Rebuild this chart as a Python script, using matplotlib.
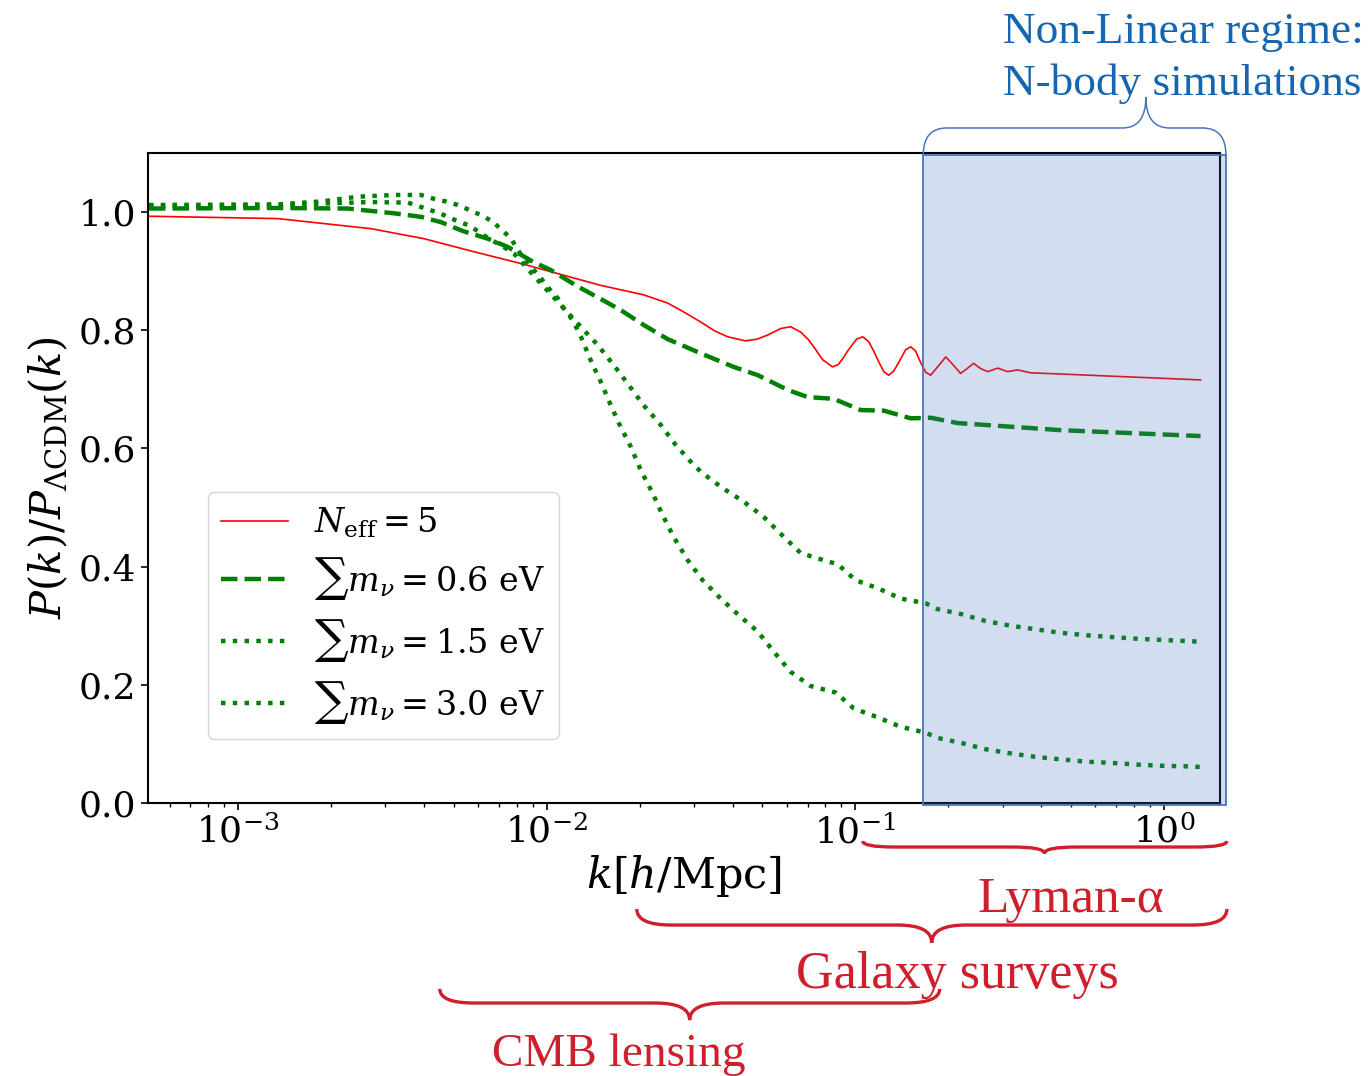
import numpy as np
import matplotlib
matplotlib.use("Agg")
import matplotlib.pyplot as plt
from matplotlib.path import Path
from matplotlib.patches import PathPatch, Rectangle

plt.rcParams['font.family'] = 'DejaVu Serif'
plt.rcParams['mathtext.fontset'] = 'dejavuserif'

# P(k) ratio to LCDM
k_neff = [5.14e-4, 1.345e-3, 2.69e-3, 4.0e-3, 5.8e-3, 8.24e-3, 0.01496, 0.0206, 0.02465,
          0.028, 0.03154, 0.035, 0.03857, 0.0441, 0.048, 0.052, 0.0573, 0.0617, 0.0665,
          0.0705, 0.0733, 0.0784, 0.0844, 0.088, 0.091, 0.0944, 0.1009, 0.1056, 0.1104,
          0.1146, 0.12, 0.1236, 0.1282, 0.1331, 0.137, 0.1455, 0.1511, 0.1567, 0.1629,
          0.169, 0.1754, 0.186, 0.1963, 0.207, 0.2193, 0.23, 0.2416, 0.255, 0.2685,
          0.2893, 0.3115, 0.3355, 0.3698, 0.4627, 1.314]
r_neff = [0.993, 0.989, 0.972, 0.955, 0.933, 0.913, 0.876, 0.860, 0.846,
          0.830, 0.814, 0.799, 0.789, 0.782, 0.785, 0.792, 0.803, 0.806, 0.797,
          0.784, 0.772, 0.750, 0.738, 0.742, 0.752, 0.765, 0.785, 0.789, 0.781,
          0.765, 0.743, 0.730, 0.724, 0.731, 0.742, 0.767, 0.772, 0.765, 0.745,
          0.729, 0.724, 0.740, 0.755, 0.742, 0.727, 0.735, 0.744, 0.735, 0.730,
          0.736, 0.730, 0.733, 0.728, 0.726, 0.716]

k_m06 = [5.14e-4, 1.345e-3, 2.27e-3, 3.195e-3, 3.91e-3, 4.54e-3, 5.34e-3, 6.44e-3, 7.48e-3,
         9.01e-3, 0.0103, 0.0126, 0.01496, 0.01738, 0.0206, 0.02465, 0.03154, 0.04034,
         0.0483, 0.0604, 0.0700, 0.0851, 0.1040, 0.1236, 0.1511, 0.1754, 0.2145, 0.2604,
         0.4627, 1.314]
r_m06 = [1.006, 1.007, 1.006, 0.998, 0.992, 0.983, 0.968, 0.955, 0.941,
         0.916, 0.902, 0.874, 0.853, 0.834, 0.809, 0.785, 0.761, 0.738,
         0.724, 0.699, 0.687, 0.684, 0.665, 0.664, 0.651, 0.652, 0.643, 0.640,
         0.631, 0.621]

k_m15 = [5.14e-4, 1.345e-3, 2.0e-3, 2.69e-3, 3.55e-3, 4.27e-3, 4.64e-3, 5.07e-3, 5.55e-3,
         6.02e-3, 6.49e-3, 7.10e-3, 7.82e-3, 8.74e-3, 9.35e-3, 0.01288, 0.01463, 0.01648,
         0.01845, 0.0206, 0.02339, 0.02617, 0.02993, 0.03199, 0.03714, 0.04345, 0.0505,
         0.0582, 0.0665, 0.0789, 0.0877, 0.1002, 0.1190, 0.1402, 0.169, 0.185, 0.2193,
         0.2643, 0.3185, 0.3839, 0.4627, 0.5573, 0.6714, 0.818, 0.985, 1.192, 1.314]
r_m15 = [1.010, 1.012, 1.015, 1.017, 1.016, 1.002, 0.995, 0.986, 0.978,
         0.967, 0.955, 0.944, 0.930, 0.902, 0.885, 0.806, 0.775, 0.741,
         0.707, 0.673, 0.640, 0.606, 0.572, 0.558, 0.533, 0.510, 0.484,
         0.452, 0.423, 0.411, 0.404, 0.377, 0.363, 0.346, 0.338, 0.328, 0.320,
         0.308, 0.300, 0.294, 0.288, 0.284, 0.281, 0.278, 0.276, 0.274, 0.273]

k_m30 = [5.14e-4, 1.345e-3, 1.854e-3, 2.44e-3, 3.195e-3, 3.91e-3, 4.27e-3, 4.71e-3, 5.15e-3,
         5.59e-3, 6.11e-3, 6.68e-3, 7.10e-3, 7.64e-3, 8.24e-3, 9.57e-3, 0.01015, 0.01086,
         0.01135, 0.01214, 0.01288, 0.01409, 0.01473, 0.01588, 0.01711, 0.01871, 0.02017,
         0.02204, 0.02374, 0.02578, 0.02862, 0.03199, 0.03661, 0.04187, 0.0483, 0.0544,
         0.0617, 0.0716, 0.0863, 0.0988, 0.1181, 0.1402, 0.169, 0.185, 0.2193, 0.2643,
         0.3185, 0.3839, 0.4627, 0.5573, 0.6714, 0.818, 0.985, 1.192, 1.314]
r_m30 = [1.012, 1.013, 1.018, 1.026, 1.029, 1.029, 1.023, 1.018, 1.012,
         1.004, 0.995, 0.984, 0.971, 0.956, 0.928, 0.888, 0.871, 0.854,
         0.837, 0.817, 0.790, 0.741, 0.721, 0.681, 0.643, 0.603, 0.563,
         0.524, 0.487, 0.450, 0.411, 0.377, 0.346, 0.318, 0.290, 0.256,
         0.222, 0.198, 0.187, 0.160, 0.145, 0.129, 0.119, 0.110, 0.102, 0.091,
         0.084, 0.078, 0.074, 0.070, 0.068, 0.065, 0.063, 0.062, 0.061]

labels = [r'$N_{\rm eff}=5$', r'$\sum m_\nu=0.6$ eV', r'$\sum m_\nu=1.5$ eV', r'$\sum m_\nu=3.0$ eV']

red = '#cf1f2c'
blue = '#1565b0'

fig = plt.figure(figsize=(13.69, 10.76), dpi=100)
ax = fig.add_axes([0.1081, 0.2537, 0.7831, 0.6041])

ax.plot(k_neff, r_neff, color='red', lw=1.2, label=labels[0])
ax.plot(k_m06, r_m06, color='green', lw=3.2, ls='--', label=labels[1])
ax.plot(k_m15, r_m15, color='green', lw=3.2, ls=':', label=labels[2])
ax.plot(k_m30, r_m30, color='green', lw=3.2, ls=':', label=labels[3])

ax.set_xscale('log')
ax.set_xlim(5.1e-4, 1.52)
ax.set_ylim(0, 1.1)
ax.set_yticks([0.0, 0.2, 0.4, 0.6, 0.8, 1.0])
ax.tick_params(labelsize=26, width=1.2, length=5)
ax.tick_params(which='minor', width=1.0, length=3)
for s in ax.spines.values():
    s.set_linewidth(1.5)
ax.set_xlabel(r'$k[h/\mathrm{Mpc}]$', fontsize=31, labelpad=2)
ax.set_ylabel(r'$P(k)/P_{\Lambda\mathrm{CDM}}(k)$', fontsize=30, labelpad=6)

ax.legend(loc='lower left', bbox_to_anchor=(0.04, 0.073), fontsize=24,
          handlelength=2.0, labelspacing=0.45, handletextpad=0.8)

# non-linear box
xt = ax.get_xaxis_transform()
ax.add_patch(Rectangle((0.166, -0.003), 1.588 - 0.166, 1.0, transform=xt,
                       facecolor='#4472c4', alpha=0.24, edgecolor='none',
                       zorder=3, clip_on=False))
ax.add_patch(Rectangle((0.166, -0.003), 1.588 - 0.166, 1.0, transform=xt,
                       facecolor='none', edgecolor='#4a74bb', lw=1.3,
                       zorder=3, clip_on=False))


def brace(k0, k1, ktip, y_end, y_flat, y_tip, rx, color, lw):
    lo, hi = np.log10(ax.get_xlim())
    f = lambda k: (np.log10(k) - lo) / (hi - lo)
    x0, x1, xm = f(k0), f(k1), f(ktip)
    verts = [(x0, y_end), (x0, y_flat), (x0 + rx, y_flat),
             (xm - rx, y_flat),
             (xm, y_flat), (xm, y_tip),
             (xm, y_flat), (xm + rx, y_flat),
             (x1 - rx, y_flat),
             (x1, y_flat), (x1, y_end)]
    codes = [Path.MOVETO, Path.CURVE3, Path.CURVE3, Path.LINETO,
             Path.CURVE3, Path.CURVE3, Path.CURVE3, Path.CURVE3,
             Path.LINETO, Path.CURVE3, Path.CURVE3]
    ax.add_patch(PathPatch(Path(verts, codes), transform=ax.transAxes, fill=False,
                           edgecolor=color, lw=lw, clip_on=False, zorder=4))


brace(0.166, 1.588, 0.874, 0.997, 1.0385, 1.086, 0.022, '#4a74bb', 1.1)
brace(0.1056, 1.6, 0.41, -0.0585, -0.0677, -0.0777, 0.03, red, 2.4)
brace(0.01957, 1.6, 0.1768, -0.163, -0.1877, -0.215, 0.032, red, 2.4)
brace(4.5e-3, 0.1876, 0.02904, -0.286, -0.3077, -0.334, 0.032, red, 2.4)

ax.text(0.5, -0.1677, 'Lyman-α', transform=xt, ha='center', va='baseline',
        color=red, fontsize=37, family='Liberation Serif')
ax.text(0.2135, -0.2846, 'Galaxy surveys', transform=xt, ha='center', va='baseline',
        color=red, fontsize=37.5, family='Liberation Serif')
ax.text(0.0171, -0.4046, 'CMB lensing', transform=xt, ha='center', va='baseline',
        color=red, fontsize=34, family='Liberation Serif')
ax.text(0.301, 1.1692, 'Non-Linear regime:', transform=xt, ha='left', va='baseline',
        color=blue, fontsize=32.6, family='Liberation Serif')
ax.text(0.301, 1.0892, 'N-body simulations', transform=xt, ha='left', va='baseline',
        color=blue, fontsize=32.6, family='Liberation Serif')

fig.savefig('out.png', dpi=100)
